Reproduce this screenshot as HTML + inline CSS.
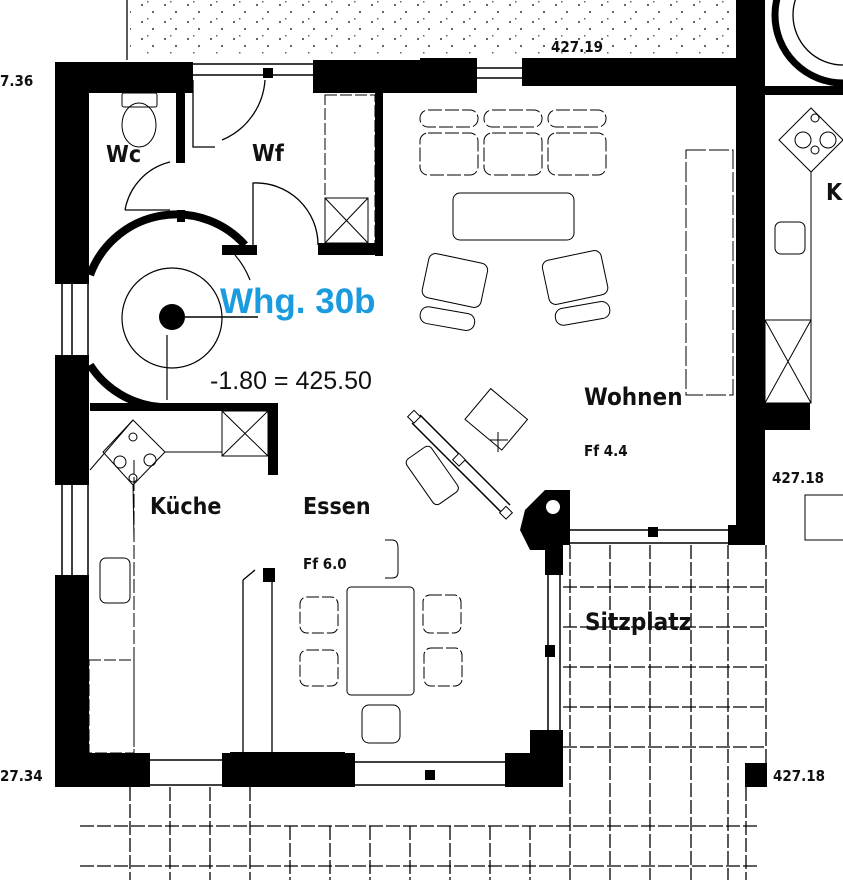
<!DOCTYPE html>
<html><head><meta charset="utf-8"><style>
html,body{margin:0;padding:0;background:#fff}
svg{display:block}
.t{font-family:"DejaVu Sans Condensed","Liberation Sans",sans-serif;font-weight:bold;fill:#111}
</style></head><body>
<svg width="843" height="880" viewBox="0 0 843 880" xmlns="http://www.w3.org/2000/svg">
<defs>
<pattern id="dots" width="23" height="17" patternUnits="userSpaceOnUse">
<rect x="3" y="4" width="2" height="2" fill="#000"/><rect x="14" y="11" width="2" height="2" fill="#000"/><rect x="9" y="1" width="1.5" height="1.5" fill="#000"/>
</pattern>
</defs>
<rect x="130" y="0" width="605" height="55" fill="url(#dots)" opacity="0.6"/>
<g fill="none" stroke="#000" stroke-width="1.3">
<line x1="127" y1="0" x2="127" y2="60"/>
<g stroke-dasharray="14 3">
<line x1="80" y1="826" x2="760" y2="826"/>
<line x1="80" y1="866" x2="760" y2="866"/>
<line x1="130" y1="787" x2="130" y2="880"/>
<line x1="170" y1="787" x2="170" y2="880"/>
<line x1="210" y1="787" x2="210" y2="880"/>
<line x1="250" y1="787" x2="250" y2="880"/>
<line x1="290" y1="826" x2="290" y2="880"/>
<line x1="330" y1="826" x2="330" y2="880"/>
<line x1="370" y1="826" x2="370" y2="880"/>
<line x1="410" y1="826" x2="410" y2="880"/>
<line x1="450" y1="826" x2="450" y2="880"/>
<line x1="490" y1="826" x2="490" y2="880"/>
<line x1="530" y1="826" x2="530" y2="880"/>
<line x1="570" y1="545" x2="570" y2="880"/>
<line x1="610" y1="545" x2="610" y2="880"/>
<line x1="650" y1="545" x2="650" y2="880"/>
<line x1="691" y1="545" x2="691" y2="880"/>
<line x1="728" y1="545" x2="728" y2="880"/>
<line x1="746" y1="787" x2="746" y2="880"/>
<line x1="766" y1="545" x2="766" y2="765"/>
<line x1="563" y1="587" x2="766" y2="587"/>
<line x1="563" y1="627" x2="766" y2="627"/>
<line x1="563" y1="667" x2="766" y2="667"/>
<line x1="563" y1="707" x2="766" y2="707"/>
<line x1="563" y1="747" x2="766" y2="747"/>
</g>
</g>
<g fill="#000">
<rect x="55" y="62" width="138" height="31"/>
<rect x="55" y="62" width="34" height="222"/>
<rect x="55" y="355" width="34" height="130"/>
<rect x="55" y="575" width="34" height="212"/>
<rect x="176" y="62" width="9" height="101"/>
<rect x="313" y="60" width="164" height="33"/>
<rect x="420" y="58" width="57" height="28"/>
<rect x="522" y="58" width="215" height="28"/>
<rect x="736" y="0" width="29" height="545"/>
<rect x="728" y="525" width="37" height="20"/>
<rect x="375" y="86" width="8" height="170"/>
<rect x="318" y="243" width="65" height="12"/>
<rect x="177" y="210" width="8" height="12"/>
<rect x="90" y="403" width="188" height="8"/>
<rect x="268" y="403" width="10" height="72"/>
<rect x="55" y="753" width="95" height="34"/>
<rect x="222" y="753" width="133" height="34"/>
<rect x="230" y="752" width="115" height="8"/>
<rect x="505" y="753" width="58" height="34"/>
<rect x="530" y="730" width="33" height="57"/>
<rect x="745" y="763" width="22" height="24"/>
<rect x="765" y="86" width="78" height="9"/>
<rect x="765" y="403" width="45" height="27"/>
<rect x="263" y="568" width="12" height="14"/>
<rect x="545" y="645" width="10" height="12"/>
<rect x="425" y="770" width="10" height="10"/>
<rect x="648" y="527" width="10" height="10"/>
<rect x="263" y="68" width="10" height="10"/>
<polygon points="525,510 545,490 570,490 570,545 563,545 563,575 545,575 545,550 530,550 520,530"/>
<circle cx="172" cy="317" r="13"/>
</g>
<circle cx="553" cy="507" r="7" fill="#fff"/>
<g fill="none" stroke="#000">
<path d="M90,275 A92,92 0 0 1 245,245" stroke-width="8"/>
<path d="M90,365 A92,92 0 0 0 160,407" stroke-width="8"/>
<rect x="222" y="245" width="35" height="10" fill="#000" stroke="none"/>
<circle cx="172" cy="318" r="50" stroke-width="1.2"/>
<path d="M235,255 A85,85 0 0 1 250,280" stroke-width="1.2"/>
<line x1="185" y1="317" x2="258" y2="317" stroke-width="1.5"/>
<line x1="167" y1="335" x2="167" y2="400" stroke-width="1.2"/>
<g stroke-width="1.5">
<line x1="193" y1="75" x2="313" y2="75"/><line x1="193" y1="64" x2="313" y2="64"/>
<line x1="477" y1="68" x2="522" y2="68"/><line x1="477" y1="78" x2="522" y2="78"/>
<line x1="62" y1="284" x2="62" y2="355"/><line x1="72" y1="284" x2="72" y2="355"/><line x1="88" y1="284" x2="88" y2="355"/>
<line x1="62" y1="485" x2="62" y2="575"/><line x1="72" y1="485" x2="72" y2="575"/><line x1="88" y1="485" x2="88" y2="575"/>
<line x1="150" y1="760" x2="222" y2="760"/><line x1="150" y1="785" x2="222" y2="785"/>
<line x1="355" y1="762" x2="505" y2="762"/><line x1="355" y1="785" x2="505" y2="785"/>
<line x1="570" y1="530" x2="728" y2="530"/><line x1="570" y1="543" x2="728" y2="543"/>
<line x1="548" y1="575" x2="548" y2="730"/><line x1="560" y1="575" x2="560" y2="730"/>
<line x1="420" y1="415" x2="510" y2="505"/><line x1="412" y1="423" x2="502" y2="513"/>
</g>
<g stroke-width="1.3">
<path d="M193,80 V147 H215"/><path d="M222,140 A70,70 0 0 0 265,80"/>
<path d="M125,210 A60,60 0 0 1 170,162"/><line x1="125" y1="210" x2="170" y2="210"/>
<path d="M253,248 V183 A62,62 0 0 1 318,245"/>
<line x1="243" y1="580" x2="243" y2="753"/><line x1="243" y1="580" x2="255" y2="570"/><line x1="272" y1="580" x2="272" y2="753"/>
</g>
<rect x="122" y="93" width="35" height="14" rx="2"/>
<ellipse cx="139" cy="125" rx="17" ry="22"/>
<rect x="325" y="95" width="50" height="150" stroke-dasharray="12 3"/>
<rect x="325" y="198" width="43" height="45"/><line x1="325" y1="198" x2="368" y2="243"/><line x1="368" y1="198" x2="325" y2="243"/>
<rect x="222" y="411" width="46" height="45"/><line x1="222" y1="411" x2="268" y2="456"/><line x1="268" y1="411" x2="222" y2="456"/>
<rect x="89" y="660" width="45" height="93" stroke-dasharray="12 3"/>
<line x1="134" y1="460" x2="134" y2="753" stroke-dasharray="14 3"/>
<rect x="100" y="558" width="30" height="45" rx="6"/>
<polygon points="133,420 165,452 133,485 103,452"/>
<circle cx="120" cy="462" r="6"/><circle cx="150" cy="460" r="6"/><circle cx="133" cy="437" r="4"/><circle cx="133" cy="478" r="4"/>
<line x1="133" y1="485" x2="134" y2="540"/><line x1="133" y1="420" x2="90" y2="470"/>
<line x1="165" y1="452" x2="222" y2="452"/>
<rect x="420" y="110" width="58" height="17" rx="8" stroke-dasharray="14 3"/>
<rect x="484" y="110" width="58" height="17" rx="8" stroke-dasharray="14 3"/>
<rect x="548" y="110" width="58" height="17" rx="8" stroke-dasharray="14 3"/>
<rect x="420" y="133" width="58" height="42" rx="8" stroke-dasharray="14 3"/>
<rect x="484" y="133" width="58" height="42" rx="8" stroke-dasharray="14 3"/>
<rect x="548" y="133" width="58" height="42" rx="8" stroke-dasharray="14 3"/>
<rect x="453" y="193" width="121" height="47" rx="7"/>
<rect x="425" y="258" width="60" height="45" rx="7" transform="rotate(12 455 280)"/>
<rect x="420" y="310" width="55" height="17" rx="8" transform="rotate(10 447 318)"/>
<rect x="545" y="255" width="60" height="45" rx="7" transform="rotate(-12 575 277)"/>
<rect x="555" y="305" width="55" height="17" rx="8" transform="rotate(-10 582 313)"/>
<rect x="686" y="150" width="47" height="245" stroke-dasharray="20 3"/>
<rect x="472" y="400" width="48" height="40" transform="rotate(40 497 420)"/>
<line x1="490" y1="440" x2="508" y2="440"/><line x1="498" y1="432" x2="498" y2="452"/>
<rect x="405" y="460" width="55" height="30" rx="5" transform="rotate(55 432 475)"/>
<rect x="455" y="455" width="9" height="9" transform="rotate(45 459 459)" fill="#fff"/>
<rect x="502" y="508" width="9" height="9" transform="rotate(45 506 512)" fill="#fff"/>
<rect x="410" y="412" width="9" height="9" transform="rotate(45 414 416)" fill="#fff"/>
<rect x="347" y="587" width="67" height="108" rx="4"/>
<rect x="300" y="597" width="38" height="36" rx="7" stroke-dasharray="12 3"/>
<rect x="300" y="650" width="38" height="36" rx="7" stroke-dasharray="12 3"/>
<rect x="423" y="595" width="38" height="38" rx="7" stroke-dasharray="12 3"/>
<rect x="424" y="648" width="38" height="38" rx="7" stroke-dasharray="12 3"/>
<rect x="362" y="705" width="38" height="38" rx="7"/>
<path d="M385,540 H392 Q398,540 398,548 V572 Q398,578 392,578 H385"/>
<circle cx="843" cy="15" r="68" stroke-width="7"/>
<circle cx="843" cy="15" r="50" stroke-width="1.3"/>
<polygon points="811,108 843,140 811,172 779,140"/>
<circle cx="803" cy="140" r="8"/><circle cx="828" cy="140" r="8"/><circle cx="815" cy="118" r="4"/><circle cx="815" cy="150" r="4"/>
<line x1="811" y1="172" x2="811" y2="403"/>
<rect x="775" y="222" width="30" height="32" rx="6"/>
<rect x="765" y="320" width="46" height="83"/><line x1="765" y1="320" x2="811" y2="403"/><line x1="811" y1="320" x2="765" y2="403"/>
<rect x="805" y="495" width="40" height="45"/>
</g>
<text class="t" x="106" y="162" font-size="23">Wc</text>
<text class="t" x="252" y="161" font-size="23">Wf</text>
<text x="220" y="313" font-family="Liberation Sans,sans-serif" font-weight="bold" font-size="35" fill="#1a9be0">Whg. 30b</text>
<text x="210" y="389" font-family="Liberation Sans,sans-serif" font-size="25" fill="#111">-1.80 = 425.50</text>
<text class="t" x="584" y="405" font-size="24">Wohnen</text>
<text class="t" x="584" y="456" font-size="15">Ff  4.4</text>
<text class="t" x="150" y="514" font-size="23">Küche</text>
<text class="t" x="303" y="514" font-size="23">Essen</text>
<text class="t" x="303" y="569" font-size="15">Ff 6.0</text>
<text class="t" x="585" y="630" font-size="24">Sitzplatz</text>
<text class="t" x="551" y="52" font-size="15">427.19</text>
<text class="t" x="0" y="86" font-size="15">7.36</text>
<text class="t" x="772" y="483" font-size="15">427.18</text>
<text class="t" x="0" y="781" font-size="15">27.34</text>
<text class="t" x="773" y="781" font-size="15">427.18</text>
<text class="t" x="826" y="200" font-size="23">K</text>
</svg>
</body></html>
